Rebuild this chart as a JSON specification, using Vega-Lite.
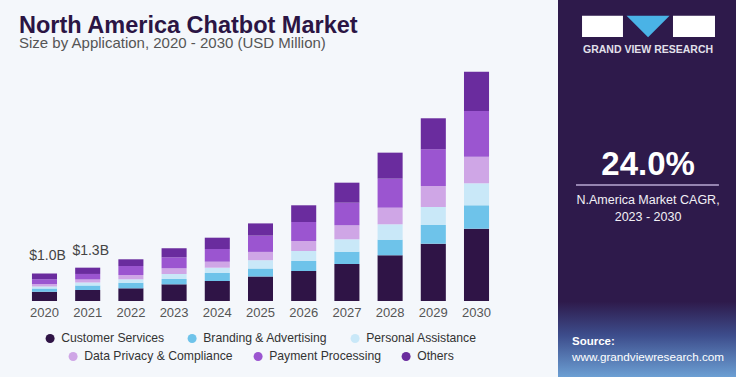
{
  "$schema": "https://vega.github.io/schema/vega-lite/v6.json",
  "background": "#f4f7fb",
  "padding": {"left": 19, "top": 0, "right": 0, "bottom": 0},
  "autosize": {"type": "pad"},
  "spacing": 56,
  "config": {
    "font": "Liberation Sans",
    "view": {"stroke": null},
    "legend": {
      "layout": {"bottom": {"anchor": "middle", "direction": "vertical", "center": true, "margin": 5}}
    }
  },
  "datasets": {
    "market": [
      {"year": "2020", "segment": "Customer Services", "value": 349},
      {"year": "2020", "segment": "Branding & Advertising", "value": 124},
      {"year": "2020", "segment": "Personal Assistance", "value": 75},
      {"year": "2020", "segment": "Data Privacy & Compliance", "value": 86},
      {"year": "2020", "segment": "Payment Processing", "value": 180},
      {"year": "2020", "segment": "Others", "value": 218},
      {"year": "2021", "segment": "Customer Services", "value": 413},
      {"year": "2021", "segment": "Branding & Advertising", "value": 169},
      {"year": "2021", "segment": "Personal Assistance", "value": 113},
      {"year": "2021", "segment": "Data Privacy & Compliance", "value": 113},
      {"year": "2021", "segment": "Payment Processing", "value": 206},
      {"year": "2021", "segment": "Others", "value": 236},
      {"year": "2022", "segment": "Customer Services", "value": 476},
      {"year": "2022", "segment": "Branding & Advertising", "value": 210},
      {"year": "2022", "segment": "Personal Assistance", "value": 128},
      {"year": "2022", "segment": "Data Privacy & Compliance", "value": 161},
      {"year": "2022", "segment": "Payment Processing", "value": 338},
      {"year": "2022", "segment": "Others", "value": 251},
      {"year": "2023", "segment": "Customer Services", "value": 626},
      {"year": "2023", "segment": "Branding & Advertising", "value": 199},
      {"year": "2023", "segment": "Personal Assistance", "value": 188},
      {"year": "2023", "segment": "Data Privacy & Compliance", "value": 214},
      {"year": "2023", "segment": "Payment Processing", "value": 413},
      {"year": "2023", "segment": "Others", "value": 338},
      {"year": "2024", "segment": "Customer Services", "value": 750},
      {"year": "2024", "segment": "Branding & Advertising", "value": 300},
      {"year": "2024", "segment": "Personal Assistance", "value": 199},
      {"year": "2024", "segment": "Data Privacy & Compliance", "value": 225},
      {"year": "2024", "segment": "Payment Processing", "value": 476},
      {"year": "2024", "segment": "Others", "value": 424},
      {"year": "2025", "segment": "Customer Services", "value": 919},
      {"year": "2025", "segment": "Branding & Advertising", "value": 300},
      {"year": "2025", "segment": "Personal Assistance", "value": 311},
      {"year": "2025", "segment": "Data Privacy & Compliance", "value": 311},
      {"year": "2025", "segment": "Payment Processing", "value": 611},
      {"year": "2025", "segment": "Others", "value": 458},
      {"year": "2026", "segment": "Customer Services", "value": 1125},
      {"year": "2026", "segment": "Branding & Advertising", "value": 375},
      {"year": "2026", "segment": "Personal Assistance", "value": 375},
      {"year": "2026", "segment": "Data Privacy & Compliance", "value": 375},
      {"year": "2026", "segment": "Payment Processing", "value": 713},
      {"year": "2026", "segment": "Others", "value": 626},
      {"year": "2027", "segment": "Customer Services", "value": 1388},
      {"year": "2027", "segment": "Branding & Advertising", "value": 461},
      {"year": "2027", "segment": "Personal Assistance", "value": 465},
      {"year": "2027", "segment": "Data Privacy & Compliance", "value": 525},
      {"year": "2027", "segment": "Payment Processing", "value": 848},
      {"year": "2027", "segment": "Others", "value": 750},
      {"year": "2028", "segment": "Customer Services", "value": 1714},
      {"year": "2028", "segment": "Branding & Advertising", "value": 585},
      {"year": "2028", "segment": "Personal Assistance", "value": 578},
      {"year": "2028", "segment": "Data Privacy & Compliance", "value": 623},
      {"year": "2028", "segment": "Payment Processing", "value": 1088},
      {"year": "2028", "segment": "Others", "value": 975},
      {"year": "2029", "segment": "Customer Services", "value": 2149},
      {"year": "2029", "segment": "Branding & Advertising", "value": 701},
      {"year": "2029", "segment": "Personal Assistance", "value": 675},
      {"year": "2029", "segment": "Data Privacy & Compliance", "value": 788},
      {"year": "2029", "segment": "Payment Processing", "value": 1376},
      {"year": "2029", "segment": "Others", "value": 1163},
      {"year": "2030", "segment": "Customer Services", "value": 2711},
      {"year": "2030", "segment": "Branding & Advertising", "value": 878},
      {"year": "2030", "segment": "Personal Assistance", "value": 825},
      {"year": "2030", "segment": "Data Privacy & Compliance", "value": 998},
      {"year": "2030", "segment": "Payment Processing", "value": 1714},
      {"year": "2030", "segment": "Others", "value": 1474}
    ],
    "labels": [
      {"year": "2020", "label": "$1.0B"},
      {"year": "2021", "label": "$1.3B"}
    ]
  },
  "hconcat": [
    {
      "spacing": 9,
      "vconcat": [
        {
          "width": 483,
          "height": 52,
          "layer": [
            {
              "data": {"values": [{"text": "North America Chatbot Market"}]},
              "mark": {"type": "text", "fontSize": 23.5, "fontWeight": "bold", "color": "#2b1544", "align": "left", "baseline": "alphabetic"},
              "encoding": {
                "x": {"datum": 0, "type": "quantitative", "scale": {"domain": [0, 1], "nice": false, "zero": false}, "axis": null},
                "y": {"datum": 0.635, "type": "quantitative", "scale": {"domain": [0, 1], "nice": false, "zero": false, "reverse": true}, "axis": null},
                "text": {"field": "text"}
              }
            },
            {
              "data": {"values": [{"text": "Size by Application, 2020 - 2030 (USD Million)"}]},
              "mark": {"type": "text", "fontSize": 15, "color": "#555555", "align": "left", "baseline": "alphabetic"},
              "encoding": {
                "x": {"datum": 0, "type": "quantitative"},
                "y": {"datum": 0.925, "type": "quantitative"},
                "text": {"field": "text"}
              }
            }
          ]
        },
        {
          "width": 483,
          "height": 240,
          "data": {"name": "market"},
          "layer": [
            {
              "transform": [
                {"stack": "value", "groupby": ["year"], "as": ["v0", "v1"]},
                {"filter": {"field": "segment", "oneOf": ["Customer Services", "Branding & Advertising", "Personal Assistance"]}}
              ],
              "mark": {"type": "bar"},
              "encoding": {
                "x": {
                  "field": "year", "type": "ordinal",
                  "scale": {"paddingInner": 0.42, "paddingOuter": 0.3},
                  "axis": {"title": null, "domain": false, "ticks": false, "labelAngle": 0, "labelFontSize": 13, "labelColor": "#555555", "labelPadding": 5}
                },
                "y": {"field": "v1", "type": "quantitative", "scale": {"domain": [0, 9000], "nice": false}, "axis": null},
                "y2": {"field": "v0"},
                "color": {
                  "field": "segment", "type": "nominal",
                  "scale": {"domain": ["Customer Services", "Branding & Advertising", "Personal Assistance"], "range": ["#2f1446", "#6ec3ea", "#c9e8f8"]},
                  "legend": {"title": null, "orient": "bottom", "direction": "horizontal", "symbolType": "circle", "symbolSize": 81, "labelFontSize": 12.2, "labelColor": "#333333", "columnPadding": 21, "labelOffset": 5, "offset": 13, "padding": 0}
                }
              }
            },
            {
              "transform": [
                {"stack": "value", "groupby": ["year"], "as": ["v0", "v1"]},
                {"filter": {"field": "segment", "oneOf": ["Data Privacy & Compliance", "Payment Processing", "Others"]}}
              ],
              "mark": {"type": "bar"},
              "encoding": {
                "x": {"field": "year", "type": "ordinal"},
                "y": {"field": "v1", "type": "quantitative"},
                "y2": {"field": "v0"},
                "color": {
                  "field": "segment", "type": "nominal",
                  "scale": {"domain": ["Data Privacy & Compliance", "Payment Processing", "Others"], "range": ["#cfa6e6", "#9b55d0", "#6a2c9e"]},
                  "legend": {"title": null, "orient": "bottom", "direction": "horizontal", "symbolType": "circle", "symbolSize": 81, "labelFontSize": 12.2, "labelColor": "#333333", "columnPadding": 19, "labelOffset": 5, "offset": 13, "padding": 0}
                }
              }
            },
            {
              "transform": [
                {"aggregate": [{"op": "sum", "field": "value", "as": "total"}], "groupby": ["year"]},
                {"lookup": "year", "from": {"data": {"name": "labels"}, "key": "year", "fields": ["label"]}},
                {"filter": "isValid(datum.label)"}
              ],
              "mark": {"type": "text", "fontSize": 14, "color": "#444444", "baseline": "middle", "dy": -17, "dx": 3},
              "encoding": {
                "x": {"field": "year", "type": "ordinal"},
                "y": {"field": "total", "type": "quantitative"},
                "text": {"field": "label"}
              }
            }
          ],
          "resolve": {"scale": {"color": "independent"}}
        }
      ]
    },
    {
      "width": 178,
      "height": 377,
      "view": {"fill": "#2e1a4b", "stroke": null},
      "layer": [
        {
          "data": {"values": [{"part": "panel fade"}]},
          "mark": {"type": "rect", "color": {"gradient": "linear", "x1": 0, "y1": 0, "x2": 0, "y2": 1, "stops": [{"offset": 0, "color": "#2e1a4b"}, {"offset": 0.45, "color": "#3d4d8c"}, {"offset": 1, "color": "#6c9fd3"}]}},
          "encoding": {
            "x": {"datum": 0, "type": "quantitative", "scale": {"domain": [0, 1], "nice": false, "zero": false}, "axis": null},
            "x2": {"datum": 1},
            "y": {"datum": 0.8, "type": "quantitative", "scale": {"domain": [0, 1], "nice": false, "zero": false, "reverse": true}, "axis": null},
            "y2": {"datum": 1}
          }
        },
        {
          "data": {"values": [{"part": "logo left"}]},
          "mark": {"type": "rect", "color": "#ffffff"},
          "encoding": {
            "x": {"datum": 0.135, "type": "quantitative"},
            "x2": {"datum": 0.365},
            "y": {"datum": 0.042, "type": "quantitative"},
            "y2": {"datum": 0.098}
          }
        },
        {
          "data": {"values": [{"part": "logo right"}]},
          "mark": {"type": "rect", "color": "#ffffff"},
          "encoding": {
            "x": {"datum": 0.646, "type": "quantitative"},
            "x2": {"datum": 0.882},
            "y": {"datum": 0.042, "type": "quantitative"},
            "y2": {"datum": 0.098}
          }
        },
        {
          "data": {"values": [{"part": "logo mark"}]},
          "mark": {"type": "point", "shape": "M-1,-0.5L1,-0.5L0,0.5Z", "size": 1849, "filled": true, "color": "#4ab3e6", "opacity": 1},
          "encoding": {
            "x": {"datum": 0.506, "type": "quantitative"},
            "y": {"datum": 0.0703, "type": "quantitative"}
          }
        },
        {
          "data": {"values": [{"text": "GRAND VIEW RESEARCH"}]},
          "mark": {"type": "text", "fontSize": 10.5, "fontWeight": "bold", "color": "#e2e0ea", "align": "center", "baseline": "middle"},
          "encoding": {
            "x": {"datum": 0.506, "type": "quantitative"},
            "y": {"datum": 0.133, "type": "quantitative"},
            "text": {"field": "text"}
          }
        },
        {
          "data": {"values": [{"text": "24.0%"}]},
          "mark": {"type": "text", "fontSize": 33, "fontWeight": "bold", "color": "#ffffff", "align": "center", "baseline": "middle"},
          "encoding": {
            "x": {"datum": 0.506, "type": "quantitative"},
            "y": {"datum": 0.4377, "type": "quantitative"},
            "text": {"field": "text"}
          }
        },
        {
          "data": {"values": [{"part": "divider"}]},
          "mark": {"type": "rule", "color": "#b9a9d2", "strokeWidth": 1.5},
          "encoding": {
            "x": {"datum": 0.101, "type": "quantitative"},
            "x2": {"datum": 0.904},
            "y": {"datum": 0.4907, "type": "quantitative"}
          }
        },
        {
          "data": {"values": [{"text": "N.America Market CAGR,"}]},
          "mark": {"type": "text", "fontSize": 12.5, "color": "#f2f0f6", "align": "center", "baseline": "middle"},
          "encoding": {
            "x": {"datum": 0.506, "type": "quantitative"},
            "y": {"datum": 0.5305, "type": "quantitative"},
            "text": {"field": "text"}
          }
        },
        {
          "data": {"values": [{"text": "2023 - 2030"}]},
          "mark": {"type": "text", "fontSize": 12.5, "color": "#f2f0f6", "align": "center", "baseline": "middle"},
          "encoding": {
            "x": {"datum": 0.506, "type": "quantitative"},
            "y": {"datum": 0.5756, "type": "quantitative"},
            "text": {"field": "text"}
          }
        },
        {
          "data": {"values": [{"text": "Source:"}]},
          "mark": {"type": "text", "fontSize": 11.5, "fontWeight": "bold", "color": "#ffffff", "align": "left", "baseline": "middle"},
          "encoding": {
            "x": {"datum": 0.0787, "type": "quantitative"},
            "y": {"datum": 0.907, "type": "quantitative"},
            "text": {"field": "text"}
          }
        },
        {
          "data": {"values": [{"text": "www.grandviewresearch.com"}]},
          "mark": {"type": "text", "fontSize": 11.7, "color": "#ffffff", "align": "left", "baseline": "middle"},
          "encoding": {
            "x": {"datum": 0.0787, "type": "quantitative"},
            "y": {"datum": 0.947, "type": "quantitative"},
            "text": {"field": "text"}
          }
        }
      ]
    }
  ]
}
